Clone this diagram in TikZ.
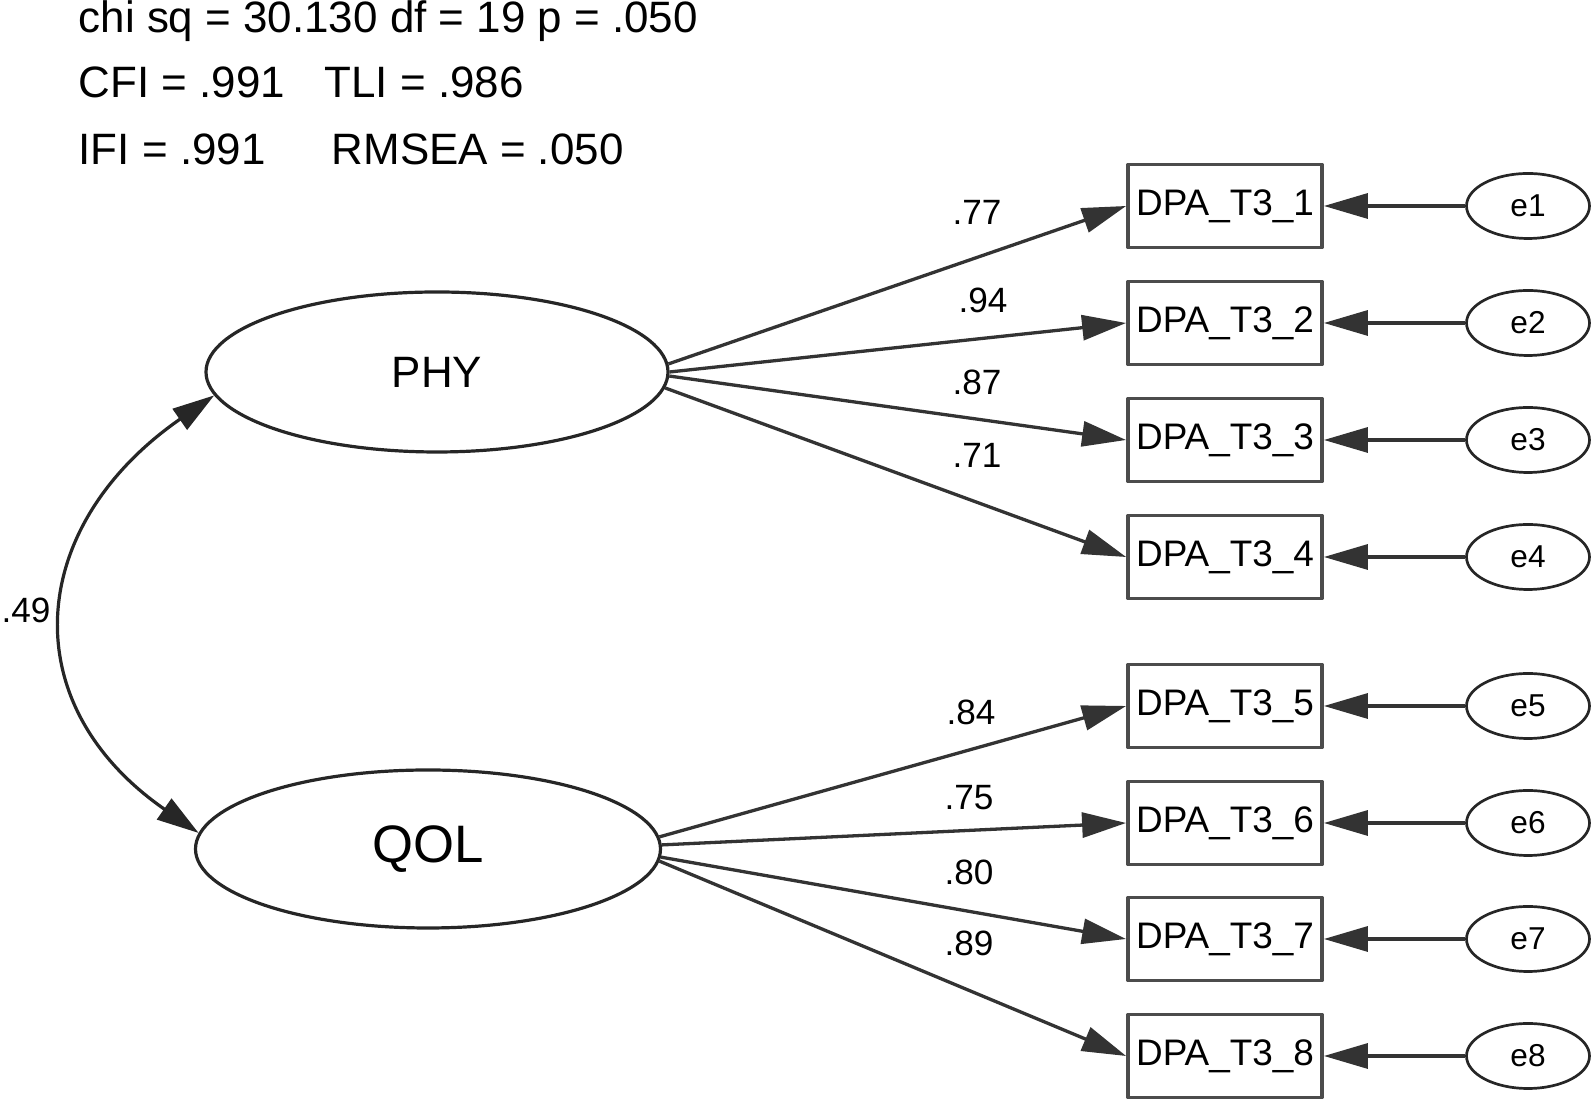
\documentclass[tikz,border=0pt]{standalone}
\usepackage{fontspec}
\setmainfont{Liberation Sans}
\usetikzlibrary{arrows.meta, shapes.geometric}

\begin{document}
\begin{tikzpicture}[x=0.1mm, y=-0.1mm, line join=round,
        fitidx/.style={anchor=base west, inner sep=0pt, font=\fontsize{12.5}{15}\selectfont},
        latent/.style={ellipse, draw=black!85, line width=0.32mm, inner sep=0pt},
        item/.style={rectangle, draw=black!70, line width=0.38mm, minimum width=19.4mm, minimum height=8.3mm, inner sep=0pt, font=\fontsize{10.5}{12}\selectfont},
        err/.style={ellipse, draw=black!85, line width=0.27mm, minimum width=12.3mm, minimum height=6.5mm, inner sep=0pt, font=\fontsize{9}{10}\selectfont},
        load/.style={black!80, line width=0.33mm, -{Triangle[length=4.4mm, width=2.5mm]}},
        coef/.style={inner sep=0pt, font=\fontsize{10}{12}\selectfont}]

        \useasboundingbox (0,0) rectangle (1594,1103);

        % Fit indices
        \node[fitidx] (chisq) at (78,33) {chi sq = 30.130 df = 19 p = .050};
        \node[fitidx] (cfi) at (78,98) {CFI = .991};
        \node[fitidx] (tli) at (324,98) {TLI = .986};
        \node[fitidx] (ifi) at (78,165) {IFI = .991};
        \node[fitidx] (rmsea) at (331,165) {RMSEA = .050};

        % Latent factors
        \node[latent, minimum width=46.2mm, minimum height=16mm, font=\fontsize{12.5}{15}\selectfont] (phy) at (437,372) {PHY};
        \node[latent, minimum width=46.5mm, minimum height=15.8mm, font=\fontsize{15}{18}\selectfont] (qol) at (428,849) {QOL};

        % Indicators and error terms
        \foreach \i/\y in {1/206, 2/323, 3/440, 4/557, 5/706, 6/823, 7/939, 8/1056} {
            \node[item] (dpa\i) at (1225,\y) {DPA\_T3\_\i};
            \node[err] (e\i) at (1528,\y) {e\i};
            \draw[load] (e\i) -- (dpa\i);
        }

        % Loadings
        \foreach \i/\a in {1/2, 2/0, 3/-1, 4/-4} {
            \draw[load] (phy.\a) -- (dpa\i.west);
        }
        \foreach \i/\a in {5/3, 6/1, 7/-2, 8/-3} {
            \draw[load] (qol.\a) -- (dpa\i.west);
        }

        % Loading values
        \foreach \i/\t/\x/\y in {1/.77/977/212, 2/.94/983/300, 3/.87/977/382, 4/.71/977/455, 5/.84/971/712, 6/.75/969/798, 7/.80/969/872, 8/.89/969/943} {
            \node[coef] (c\i) at (\x,\y) {\t};
        }

        % Correlation
        \draw[black!85, line width=0.32mm, {Triangle[length=4.2mm, width=2.5mm]}-{Triangle[length=4.2mm, width=2.5mm]}]
            (phy.186) .. controls +(-187,130) and +(-187,-130) .. (qol.176);
        \node[coef] (r) at (26,610) {.49};
    \end{tikzpicture}
\end{document}
